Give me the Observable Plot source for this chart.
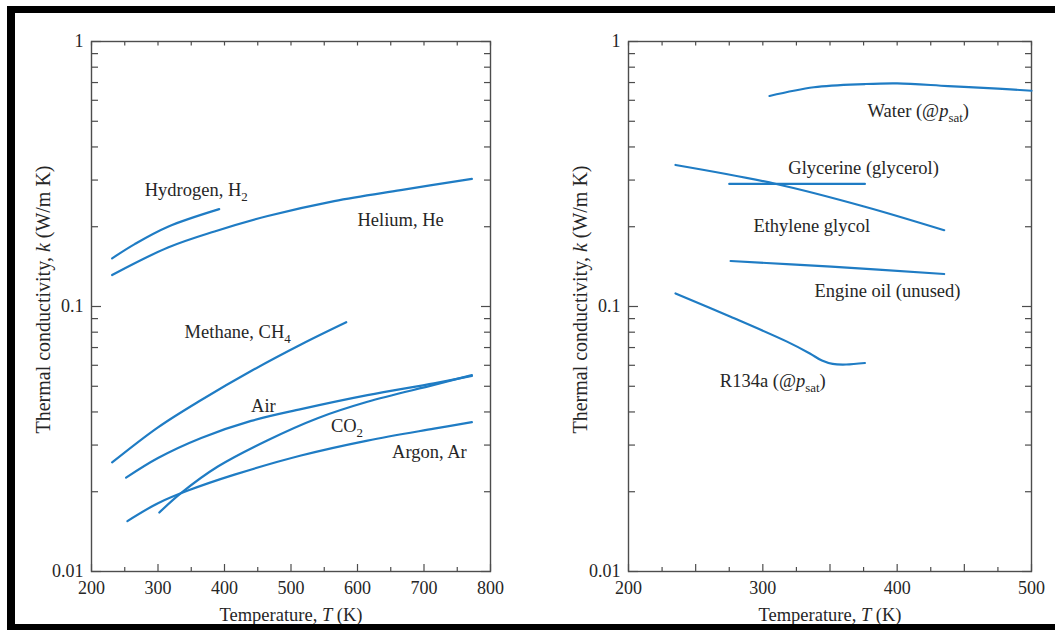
<!DOCTYPE html>
<html>
<head>
<meta charset="utf-8">
<script src="https://cdn.jsdelivr.net/npm/d3@7"></script>
<script src="https://cdn.jsdelivr.net/npm/@observablehq/plot@0.6"></script>
<style>
html, body { margin: 0; padding: 0; background: #fff; }
#root { position: relative; width: 1055px; height: 630px; overflow: hidden; background: #fff; }
.panel { position: absolute; top: 0; }
#border { position: absolute; left: 7px; top: 6px; width: 1100px; height: 624px; box-sizing: border-box;
  border-top: 7px solid #000; border-left: 8px solid #000; border-bottom: 6px solid #000; pointer-events: none; z-index: 5; }
</style>
</head>
<body>
<div id="root"></div>
<script>
// ---------- Data ----------
// Left panel: gases, temperature T (K) vs thermal conductivity k (W/m K)
const hydrogenT = [231, 265, 315, 392];
const hydrogenK = [0.152, 0.172, 0.200, 0.233];
const heliumT = [231, 315, 385, 465, 565, 665, 772];
const heliumK = [0.1315, 0.167, 0.192, 0.2195, 0.250, 0.275, 0.303];
const methaneT = [231, 300, 365, 440, 515, 583];
const methaneK = [0.0258, 0.0350, 0.0444, 0.0571, 0.0719, 0.0872];
const airT = [252, 300, 365, 440, 515, 615, 715, 772];
const airK = [0.0226, 0.0268, 0.0319, 0.0370, 0.0410, 0.0463, 0.0513, 0.0547];
const co2T = [302, 335, 390, 465, 540, 615, 715, 772];
const co2K = [0.0167, 0.0198, 0.0249, 0.0313, 0.0379, 0.0437, 0.0506, 0.0551];
const argonT = [254, 300, 345, 415, 515, 615, 715, 772];
const argonK = [0.0155, 0.0181, 0.0202, 0.0232, 0.0274, 0.0312, 0.0346, 0.0366];

// Right panel: liquids
const waterT = [305, 338, 376, 400, 438, 475, 500];
const waterK = [0.623, 0.672, 0.691, 0.695, 0.679, 0.664, 0.652];
const glycerineT = [275, 376];
const glycerineK = [0.290, 0.290];
const ethyleneT = [235, 310, 376, 435];
const ethyleneK = [0.342, 0.290, 0.238, 0.194];
const oilT = [276, 351, 435];
const oilK = [0.1485, 0.1413, 0.1326];
const r134aT = [235, 276, 318, 335, 344, 352, 362, 376];
const r134aK = [0.112, 0.0915, 0.0737, 0.0665, 0.0625, 0.0607, 0.0604, 0.0612];

// Curve labels (markup: *italic*, _{subscript})
const leftLabels = ["Hydrogen, H_{2}", "Helium, He", "Methane, CH_{4}", "Air", "CO_{2}", "Argon, Ar"];
const leftLabelT = [280, 600, 340, 440, 560, 652];
const leftLabelK = [0.275, 0.211, 0.0803, 0.0421, 0.0354, 0.0283];
const rightLabels = ["Water (@*p*_{sat})", "Glycerine (glycerol)", "Ethylene glycol", "Engine oil (unused)", "R134a (@*p*_{sat})"];
const rightLabelT = [378, 319, 293, 338.5, 268];
const rightLabelK = [0.547, 0.332, 0.201, 0.1144, 0.0523];

// Axis texts and ticks
const xTitle = "Temperature, *T* (K)";
const yTitle = "Thermal conductivity, *k* (W/m K)";
const yLabelTicks = [0.01, 0.1, 1];
const yMinorTicks = [0.02, 0.03, 0.04, 0.05, 0.06, 0.07, 0.08, 0.09, 0.2, 0.3, 0.4, 0.5, 0.6, 0.7, 0.8, 0.9];
const leftXLabelTicks = [200, 300, 400, 500, 600, 700, 800];
const leftXMajorTicks = [200, 300, 400, 500, 600, 700, 800];
const leftXMinorTicks = [250, 350, 450, 550, 650, 750];
const rightXLabelTicks = [200, 300, 400, 500];
const rightXMajorTicks = [200, 250, 300, 350, 400, 450, 500];
const rightXMinorTicks = [225, 275, 325, 375, 425, 475];

// ---------- Styling ----------
const FONT = "'Liberation Serif', 'Times New Roman', serif";
const LINE = "#1f7cc4";
const AX = "#4d4d4d";
const TXT = "#262626";

const rows = (name, T, K) => T.map((t, i) => ({series: name, T: t, k: K[i]}));
const leftRows = [
  ...rows("Hydrogen", hydrogenT, hydrogenK), ...rows("Helium", heliumT, heliumK),
  ...rows("Methane", methaneT, methaneK), ...rows("Air", airT, airK),
  ...rows("CO2", co2T, co2K), ...rows("Argon", argonT, argonK)
];
const rightRows = [
  ...rows("Water", waterT, waterK), ...rows("Glycerine", glycerineT, glycerineK),
  ...rows("Ethylene glycol", ethyleneT, ethyleneK), ...rows("Engine oil", oilT, oilK),
  ...rows("R134a", r134aT, r134aK)
];
const labelRows = (L, T, K) => L.map((s, i) => ({text: s, T: T[i], k: K[i]}));

function tickMarks(xLabels, xMajor, xMinor) {
  return [
    Plot.axisX({anchor: "bottom", ticks: xMajor, tickSize: -7, fill: "none", stroke: AX, strokeWidth: 1.2, label: null}),
    Plot.axisX({anchor: "bottom", ticks: xMinor, tickSize: -4, fill: "none", stroke: AX, strokeWidth: 1.2, label: null}),
    Plot.axisX({anchor: "top", ticks: [...xMajor, ...xMinor], tickSize: -3.5, fill: "none", stroke: AX, strokeWidth: 1.2, label: null}),
    Plot.axisX({anchor: "bottom", ticks: xLabels, tickSize: 0, tickPadding: 10, stroke: "none", fill: TXT, fontSize: 18, label: null, tickFormat: d => String(d)}),
    Plot.axisY({anchor: "left", ticks: yMinorTicks, tickSize: -7, fill: "none", stroke: AX, strokeWidth: 1.2, label: null}),
    Plot.axisY({anchor: "left", ticks: yLabelTicks, tickSize: -10, fill: "none", stroke: AX, strokeWidth: 1.2, label: null}),
    Plot.axisY({anchor: "right", ticks: yMinorTicks, tickSize: -7, fill: "none", stroke: AX, strokeWidth: 1.2, label: null}),
    Plot.axisY({anchor: "right", ticks: yLabelTicks, tickSize: -10, fill: "none", stroke: AX, strokeWidth: 1.2, label: null}),
    Plot.axisY({anchor: "left", ticks: yLabelTicks, tickSize: 0, tickPadding: 8, stroke: "none", fill: TXT, fontSize: 18, label: null, tickFormat: d => String(d)})
  ];
}

function panel(opts) {
  return Plot.plot({
    width: opts.width, height: 630,
    marginLeft: opts.ml, marginRight: opts.mr, marginTop: 41, marginBottom: 59,
    style: {fontFamily: FONT, fontSize: "18px", color: TXT, background: "transparent", overflow: "visible"},
    x: {domain: opts.xDomain},
    y: {type: "log", domain: [0.01, 1]},
    marks: [
      ...tickMarks(opts.xLabels, opts.xMajor, opts.xMinor),
      Plot.frame({stroke: AX, strokeWidth: 1.4}),
      Plot.line(opts.rows, {x: "T", y: "k", z: "series", stroke: LINE, strokeWidth: 2.2, curve: "catmull-rom"}),
      Plot.text(opts.labels, {x: "T", y: "k", text: "text", textAnchor: "start", lineAnchor: "middle", fill: TXT, fontSize: 18.5, fontFamily: FONT}),
      Plot.text([xTitle], {frameAnchor: "bottom", textAnchor: "middle", lineAnchor: "middle", dy: 44, fill: TXT, fontSize: 18.5, fontFamily: FONT}),
      Plot.text([yTitle], {frameAnchor: "left", textAnchor: "middle", lineAnchor: "middle", rotate: -90, dx: -48, dy: -7, fill: TXT, fontSize: 20, fontFamily: FONT})
    ]
  });
}

function richify(svg) {
  const NS = "http://www.w3.org/2000/svg";
  const SUB = 5;
  svg.querySelectorAll("text").forEach(t => {
    if (t.querySelector("tspan")) return;
    const s = t.textContent;
    if (!/\*|_\{/.test(s)) return;
    const parts = s.split(/(\*[^*]+\*|_\{[^}]+\})/).filter(p => p);
    t.textContent = "";
    let shifted = false;
    for (const p of parts) {
      const ts = document.createElementNS(NS, "tspan");
      if (p.startsWith("*")) {
        ts.textContent = p.slice(1, -1);
        ts.setAttribute("font-style", "italic");
        if (shifted) { ts.setAttribute("dy", -SUB); shifted = false; }
      } else if (p.startsWith("_{")) {
        ts.textContent = p.slice(2, -1);
        ts.setAttribute("font-size", "0.7em");
        ts.setAttribute("dy", SUB);
        shifted = true;
      } else {
        ts.textContent = p;
        if (shifted) { ts.setAttribute("dy", -SUB); shifted = false; }
      }
      t.appendChild(ts);
    }
  });
}

const root = document.getElementById("root");

const left = panel({
  width: 527, ml: 91, mr: 37, xDomain: [200, 800],
  xLabels: leftXLabelTicks, xMajor: leftXMajorTicks, xMinor: leftXMinorTicks,
  rows: leftRows, labels: labelRows(leftLabels, leftLabelT, leftLabelK)
});
left.classList.add("panel");
left.style.left = "0px";
richify(left);
root.appendChild(left);

const right = panel({
  width: 528, ml: 101, mr: 24, xDomain: [200, 500],
  xLabels: rightXLabelTicks, xMajor: rightXMajorTicks, xMinor: rightXMinorTicks,
  rows: rightRows, labels: labelRows(rightLabels, rightLabelT, rightLabelK)
});
right.classList.add("panel");
right.style.left = "527px";
richify(right);
root.appendChild(right);

const border = document.createElement("div");
border.id = "border";
root.appendChild(border);
</script>
</body>
</html>
